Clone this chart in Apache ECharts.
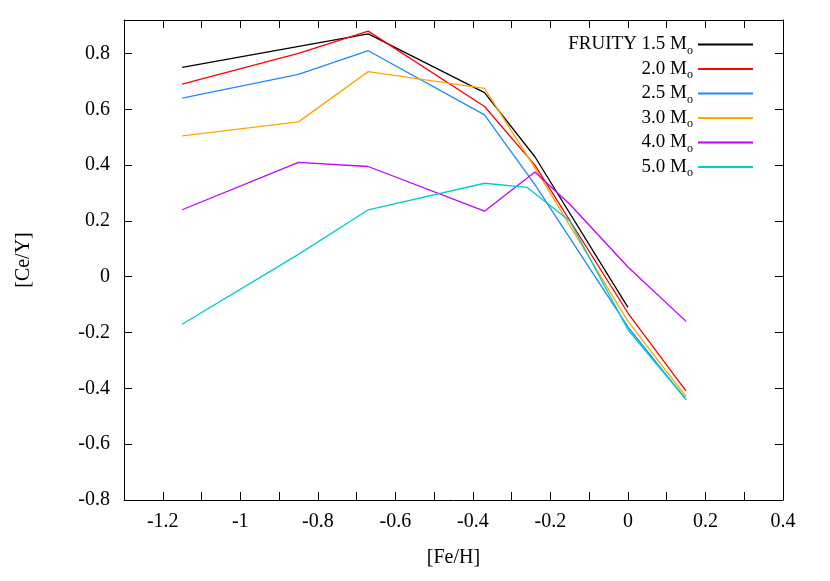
<!DOCTYPE html>
<html>
<head>
<meta charset="utf-8">
<script src="https://cdn.jsdelivr.net/npm/echarts@6/dist/echarts.min.js"></script>
<style>html,body{margin:0;padding:0;background:#fff}#main{width:830px;height:581px}</style>
</head>
<body>
<div id="main"></div>
<script>
var names = ['FRUITY 1.5', '2.0', '2.5', '3.0', '4.0', '5.0'];
var colors = ['#000000', '#ff0000', '#1e88ff', '#ffa500', '#c000ff', '#00cccc'];
var m15 = [[-1.15, 0.75], [-0.67, 0.87], [-0.37, 0.66], [-0.24, 0.43], [0, -0.11]];
var m20 = [[-1.15, 0.69], [-0.85, 0.80], [-0.67, 0.88], [-0.37, 0.61], [-0.24, 0.40], [0, -0.13], [0.15, -0.41]];
var m25 = [[-1.15, 0.64], [-0.85, 0.725], [-0.67, 0.81], [-0.37, 0.58], [-0.24, 0.33], [0, -0.18], [0.15, -0.44]];
var m30 = [[-1.15, 0.505], [-0.85, 0.555], [-0.67, 0.735], [-0.37, 0.675], [-0.24, 0.39], [0, -0.16], [0.15, -0.43]];
var m40 = [[-1.15, 0.24], [-0.85, 0.41], [-0.67, 0.395], [-0.37, 0.235], [-0.24, 0.375], [-0.15, 0.26], [0, 0.035], [0.15, -0.16]];
var m50 = [[-1.15, -0.17], [-0.85, 0.08], [-0.67, 0.24], [-0.37, 0.335], [-0.26, 0.32], [-0.15, 0.2], [0, -0.19], [0.15, -0.44]];
var allData = [m15, m20, m25, m30, m40, m50];

var font = 'Liberation Serif';
var chart = echarts.init(document.getElementById('main'));
var axLine = {show: true, onZero: false, lineStyle: {color: '#000', width: 1}};
var tick = {inside: true, length: 8, lineStyle: {color: '#000'}};
chart.setOption({
    textStyle: {fontFamily: font},
    grid: {left: 124, right: 47, top: 20, bottom: 81},
    legend: {
        orient: 'vertical', right: 72, top: 30, align: 'right',
        itemWidth: 55, itemHeight: 2, itemGap: 3, icon: 'rect',
        data: names,
        formatter: function (n) { return n + ' M{s|o}'; },
        textStyle: {fontFamily: font, fontSize: 19, color: '#000',
            rich: {s: {fontSize: 12, verticalAlign: 'bottom', padding: [12, 0, 0, 0], fontFamily: font}}}
    },
    xAxis: [{
        type: 'value', min: -1.3, max: 0.4, interval: 0.1,
        name: '[Fe/H]', nameLocation: 'middle', nameGap: 48,
        nameTextStyle: {fontSize: 20, color: '#000', fontFamily: font},
        axisLine: axLine, splitLine: {show: false}, axisTick: tick,
        axisLabel: {fontSize: 20, color: '#000', fontFamily: font, margin: 12,
            formatter: function (v) { var r = Math.round(v * 10); if (r % 2 !== 0 || r === -14) return ''; return (r / 10).toString(); }}
    }, {
        type: 'value', min: -1.3, max: 0.4, interval: 0.1, position: 'top',
        axisLine: axLine, splitLine: {show: false}, axisLabel: {show: false}, axisTick: tick
    }],
    yAxis: [{
        type: 'value', min: -0.8, max: 0.92, interval: 0.2,
        name: '[Ce/Y]', nameLocation: 'middle', nameGap: 90,
        nameTextStyle: {fontSize: 20, color: '#000', fontFamily: font},
        axisLine: axLine, splitLine: {show: false}, axisTick: tick,
        axisLabel: {fontSize: 20, color: '#000', margin: 14, fontFamily: font, showMaxLabel: false,
            formatter: function (v) { var r = Math.round(v * 10) / 10; return r === 0 ? '0' : r.toFixed(1); }}
    }, {
        type: 'value', min: -0.8, max: 0.92, interval: 0.2, position: 'right',
        axisLine: axLine, splitLine: {show: false}, axisLabel: {show: false}, axisTick: tick
    }],
    series: names.map(function (n, i) {
        return {name: n, type: 'line', data: allData[i], symbol: 'none',
            color: colors[i], lineStyle: {width: 1.3, color: colors[i]}};
    })
});
</script>
</body>
</html>
